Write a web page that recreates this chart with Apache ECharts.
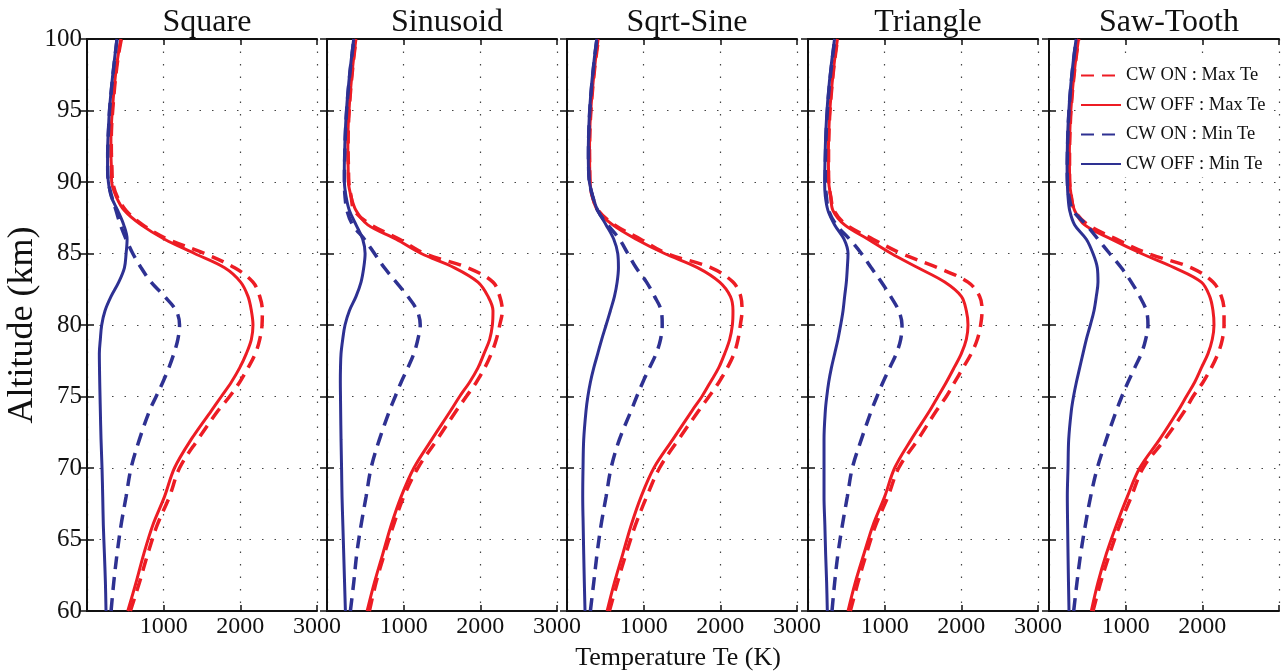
<!DOCTYPE html>
<html>
<head>
<meta charset="utf-8">
<script src="https://cdn.jsdelivr.net/npm/echarts@6/dist/echarts.min.js"></script>
<style>html,body{margin:0;padding:0;background:#fff}#c{width:1282px;height:671px}</style>
</head>
<body>
<div id="c"></div>
<script>
// Altitudes (km) shared by every curve
const altitudes = [60,62,64,66,68,70,72,74,75,76,77,78,79,80,81,82,83,84,85,86,87,88,89,90,91,92,93,94,95,96,97,98,99,100];
const panelTitles = ['Square','Sinusoid','Sqrt-Sine','Triangle','Saw-Tooth'];
const xTicks = [1000,2000,3000];
const yTicks = [60,65,70,75,80,85,90,95,100];
const seriesNames = ['CW ON : Max Te','CW OFF : Max Te','CW ON : Min Te','CW OFF : Min Te'];

// Temperature Te (K) per panel
// Square
const sqOnMax  = [566,684,793,915,1076,1207,1447,1708,1860,1991,2100,2196,2253,2283,2287,2253,2165,1926,1534,1054,728,510,392,335,325,318,317,322,335,350,367,388,414,448];
const sqOffMax = [532,640,741,858,1011,1141,1359,1621,1752,1882,1991,2078,2144,2165,2144,2100,2004,1795,1403,1011,706,488,379,322,318,312,312,318,330,345,362,383,410,443];
const sqOnMin  = [314,349,392,444,510,575,684,815,902,989,1067,1133,1185,1207,1163,1011,836,706,597,510,436,379,322,279,270,270,275,284,294,310,328,348,370,392];
const sqOffMin = [248,240,227,213,205,196,183,174,170,166,163,161,174,192,235,314,414,488,510,523,479,401,314,279,268,268,273,282,292,308,326,346,368,390];
// Sinusoid
const siOnMax  = [553,640,749,867,1002,1185,1438,1686,1817,1948,2057,2144,2209,2253,2287,2253,2165,1839,1272,945,575,357,314,285,280,276,276,280,290,302,318,336,356,380];
const siOffMax = [523,619,728,837,967,1133,1368,1612,1730,1860,1969,2048,2122,2157,2165,2100,1969,1664,1229,902,532,379,314,279,276,272,272,277,287,300,316,334,354,378];
const siOnMin  = [305,349,388,444,510,575,684,815,890,967,1054,1133,1185,1216,1176,1054,902,749,619,488,335,261,235,227,228,232,237,245,256,270,287,306,328,350];
const siOffMin = [240,229,218,207,196,190,183,178,176,174,176,183,205,235,292,379,444,479,497,466,379,292,248,227,226,230,235,243,254,268,285,304,326,348];
// Sqrt-Sine
const ssOnMax  = [553,658,770,892,1040,1207,1455,1717,1852,1982,2091,2179,2231,2261,2283,2266,2165,1882,1300,960,620,410,330,300,296,294,296,302,312,326,343,362,385,410];
const ssOffMax = [523,619,728,837,967,1133,1381,1630,1760,1870,1978,2057,2122,2157,2165,2131,1991,1708,1272,902,597,401,330,300,296,294,295,300,310,324,341,360,382,406];
const ssOnMin  = [305,349,392,444,510,575,684,836,910,989,1076,1163,1220,1242,1229,1142,1037,902,793,684,532,401,335,292,282,280,282,288,297,310,326,345,366,390];
const ssOffMin = [235,226,218,211,205,209,218,248,272,305,349,401,453,510,566,619,654,671,662,610,510,401,335,292,280,278,280,286,295,308,324,343,364,388];
// Triangle
const trOnMax  = [552,652,761,883,1043,1183,1435,1674,1804,1913,2022,2130,2209,2252,2270,2239,2087,1696,1217,848,500,339,296,270,268,268,271,277,287,301,318,337,360,386];
const trOffMax = [522,617,730,848,1000,1130,1348,1587,1696,1804,1904,2000,2065,2087,2065,2000,1783,1435,1087,783,478,326,296,270,267,266,269,275,285,299,316,335,358,384];
const trOnMin  = [313,348,391,448,513,578,696,826,900,978,1065,1152,1209,1226,1183,1078,957,826,696,543,370,270,240,226,226,229,234,242,253,267,284,304,326,350];
const trOffMin = [252,243,230,220,209,209,209,226,245,270,305,348,391,426,457,478,500,513,522,470,348,261,226,217,220,224,229,237,248,262,279,299,322,346];
// Saw-Tooth
const stOnMax  = [574,674,791,922,1074,1226,1509,1770,1878,2009,2117,2204,2261,2283,2283,2248,2139,1857,1291,878,509,335,291,270,268,268,271,277,287,301,318,338,361,388];
const stOffMax = [552,639,748,878,1022,1183,1443,1683,1791,1900,1987,2074,2130,2152,2139,2096,1987,1639,1204,813,465,335,291,270,267,266,269,275,285,299,316,336,359,386];
const stOnMin  = [322,365,413,474,543,630,748,878,950,1030,1117,1204,1261,1291,1270,1183,1074,944,791,639,487,313,260,240,238,240,244,251,261,274,290,309,331,356];
const stOffMin = [261,254,248,243,239,248,257,291,320,357,400,443,487,539,587,617,639,630,574,487,335,270,248,239,236,238,242,249,259,272,288,307,329,354];

const panelData = [
  [sqOnMax, sqOffMax, sqOnMin, sqOffMin],
  [siOnMax, siOffMax, siOnMin, siOffMin],
  [ssOnMax, ssOffMax, ssOnMin, ssOffMin],
  [trOnMax, trOffMax, trOnMin, trOffMin],
  [stOnMax, stOffMax, stOnMin, stOffMin]
];

const RED = '#ED1C24', BLUE = '#2E3192';
const FONT = '"Liberation Serif", "Times New Roman", serif';
const gridLefts = [87, 327, 567, 808, 1049];
const gridW = 230;

const chart = echarts.init(document.getElementById('c'), null, {renderer: 'canvas'});
const grids = [], xAxes = [], yAxes = [], series = [], titles = [];
const dotted = {color: '#444', width: 1.2, type: [1.5, 11]};

gridLefts.forEach((L, i) => {
  grids.push({left: L, top: 39, width: gridW, height: 572, show: false,
    containLabel: false, outerBoundsMode: 'none'});
  titles.push({text: panelTitles[i], left: L + gridW / 2, top: 2, textAlign: 'center',
    textStyle: {fontFamily: FONT, fontSize: 32, fontWeight: 'normal', color: '#111'}});
  const isLast = i === 4;
  xAxes.push({
    gridIndex: i, type: 'value', min: 0, max: 3000, interval: 1000, position: 'bottom',
    axisLine: {show: true, lineStyle: {color: '#111', width: 2}},
    axisTick: {show: true, inside: true, length: 6, lineStyle: {color: '#111', width: 1.5}},
    axisLabel: {show: true, margin: 4, fontFamily: FONT, fontSize: 24, color: '#111',
      formatter: v => (xTicks.indexOf(v) >= 0 && !(isLast && v === 3000)) ? String(v) : ''},
    splitLine: {show: true, lineStyle: dotted},
    name: i === 2 ? 'Temperature Te (K)' : '', nameLocation: 'middle', nameGap: 34,
    nameTextStyle: {fontFamily: FONT, fontSize: 26, color: '#111', padding: [0, 8, 0, 0]}
  });
  xAxes.push({
    gridIndex: i, type: 'value', min: 0, max: 3000, interval: 1000, position: 'top',
    axisLine: {show: true, lineStyle: {color: '#111', width: 2}},
    axisTick: {show: true, inside: true, length: 6, lineStyle: {color: '#111', width: 1.5}},
    axisLabel: {show: false}, splitLine: {show: false}
  });
  yAxes.push({
    gridIndex: i, type: 'value', min: 60, max: 100, interval: 5, position: 'left',
    axisLine: {show: true, lineStyle: {color: '#111', width: 2}},
    axisTick: {show: true, inside: true, length: 7, lineStyle: {color: '#111', width: 1.5}},
    axisLabel: {show: i === 0, margin: 5, fontFamily: FONT, fontSize: 25, color: '#111',
      formatter: v => yTicks.indexOf(v) >= 0 ? String(v) : ''},
    splitLine: {show: true, lineStyle: dotted},
    name: i === 0 ? 'Altitude (km)' : '', nameLocation: 'middle', nameGap: 27,
    nameTextStyle: {fontFamily: FONT, fontSize: 36, color: '#111'}
  });
  yAxes.push({
    gridIndex: i, type: 'value', min: 60, max: 100, interval: 5, position: 'right',
    axisLine: {show: true, lineStyle: {color: '#111', width: 2}},
    axisTick: {show: true, inside: true, length: 7, lineStyle: {color: '#111', width: 1.5}},
    axisLabel: {show: false}, splitLine: {show: false}
  });
  const styles = [
    {color: RED, type: [13, 8], width: 3.5},
    {color: RED, type: 'solid', width: 3},
    {color: BLUE, type: [13, 8], width: 3.5},
    {color: BLUE, type: 'solid', width: 3}
  ];
  const order = [1, 0, 3, 2];
  order.forEach(k => {
    const vals = panelData[i][k];
    series.push({
      name: seriesNames[k], type: 'line', xAxisIndex: 2 * i, yAxisIndex: 2 * i,
      data: altitudes.map((a, j) => [vals[j], a]),
      showSymbol: false, symbol: 'none', smooth: 0.35, clip: true,
      lineStyle: styles[k], itemStyle: {color: styles[k].color},
      z: 3, silent: true, animation: false
    });
  });
});

chart.setOption({
  animation: false,
  backgroundColor: '#fff',
  title: titles,
  grid: grids,
  xAxis: xAxes,
  yAxis: yAxes,
  legend: {
    data: seriesNames, orient: 'vertical', left: 1078, top: 62,
    itemWidth: 40, itemHeight: 14, itemGap: 10.5,
    backgroundColor: '#fff', padding: [4, 6, 4, 2],
    itemStyle: {opacity: 0},
    textStyle: {fontFamily: FONT, fontSize: 18.5, color: '#111'},
    selectedMode: false
  },
  series: series
});
</script>
</body>
</html>
